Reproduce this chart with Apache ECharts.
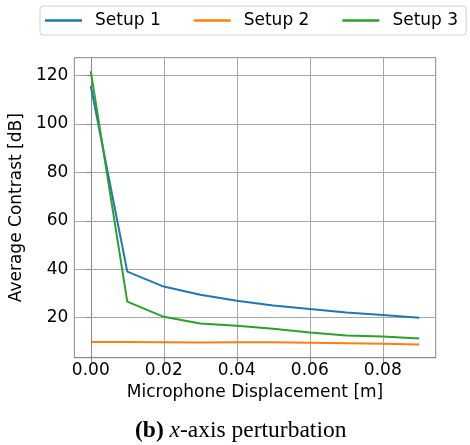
<!DOCTYPE html>
<html>
<head>
<meta charset="utf-8">
<script src="https://cdn.jsdelivr.net/npm/echarts@6/dist/echarts.min.js"></script>
<style>
html,body{margin:0;padding:0;background:#fff;}
#chart{width:470px;height:445px;}
</style>
</head>
<body>
<div id="chart"></div>
<script>
var displacement = [0.00, 0.01, 0.02, 0.03, 0.04, 0.05, 0.06, 0.07, 0.08, 0.09];
var setup1 = [115.7, 39.0, 32.8, 29.4, 26.9, 25.0, 23.5, 22.1, 21.0, 19.9];
var setup2 = [9.9, 9.9, 9.8, 9.7, 9.8, 9.8, 9.6, 9.4, 9.2, 8.9];
var setup3 = [121.8, 26.6, 20.3, 17.5, 16.6, 15.4, 13.8, 12.6, 12.2, 11.3];
var xTicks = [0.00, 0.02, 0.04, 0.06, 0.08];
var yTicks = [20, 40, 60, 80, 100, 120];
var seriesNames = ['Setup 1', 'Setup 2', 'Setup 3'];
var colors = ['#1f77b4', '#ff7f0e', '#2ca02c'];

function pairs(ys) { return displacement.map(function (x, i) { return [x, ys[i]]; }); }

var FONT = 'DejaVu Sans';
var chart = echarts.init(document.getElementById('chart'), null, {renderer: 'canvas'});
var allSeries = [setup1, setup2, setup3];
chart.setOption({
  animation: false,
  color: colors,
  grid: {left: 72.7, right: 34.3, top: 57.7, bottom: 87.3, show: true, borderColor: '#888', borderWidth: 1, containLabel: false},
  legend: {
    left: 40, top: 6,
    padding: [6, 8, 6, 5],
    itemWidth: 37, itemHeight: 2.5, itemGap: 33,
    icon: 'rect',
    borderColor: '#d0d0d0', borderWidth: 1, borderRadius: 3,
    textStyle: {fontFamily: FONT, fontSize: 17, color: '#000', padding: [0, 0, 0, 8]},
    data: seriesNames
  },
  xAxis: {
    type: 'value', min: -0.0045, max: 0.0945,
    name: 'Microphone Displacement [m]', nameLocation: 'middle', nameGap: 21,
    nameTextStyle: {fontFamily: FONT, fontSize: 17, color: '#000'},
    axisLine: {show: true, lineStyle: {color: '#888', width: 1}},
    axisTick: {show: true, length: 5, lineStyle: {color: '#888'}, customValues: xTicks},
    axisLabel: {fontFamily: FONT, fontSize: 17, color: '#000', margin: 4, customValues: xTicks,
      formatter: function (v) { return v.toFixed(2); }},
    splitLine: {show: true, lineStyle: {color: '#a8a8a8', width: 1}}
  },
  yAxis: {
    type: 'value', min: 3.4, max: 127.4,
    name: 'Average Contrast [dB]', nameLocation: 'middle', nameGap: 39,
    nameTextStyle: {fontFamily: FONT, fontSize: 17, color: '#000'},
    axisLine: {show: true, lineStyle: {color: '#888', width: 1}},
    axisTick: {show: true, length: 5, lineStyle: {color: '#888'}, customValues: yTicks},
    axisLabel: {fontFamily: FONT, fontSize: 17, color: '#000', margin: 6, customValues: yTicks},
    splitLine: {show: true, lineStyle: {color: '#a8a8a8', width: 1}}
  },
  series: seriesNames.map(function (n, i) {
    return {name: n, type: 'line', data: pairs(allSeries[i]), showSymbol: false, symbol: 'none',
      lineStyle: {width: 2, color: colors[i]}, itemStyle: {color: colors[i]}, z: 2 + i};
  }),
  graphic: [{
    type: 'text', left: 135, top: 419,
    style: {
      text: '{b|(b)} {i|x}{n|-axis perturbation}',
      rich: {
        b: {fontFamily: 'Liberation Serif', fontWeight: 'bold', fontSize: 23.5, fill: '#000'},
        i: {fontFamily: 'Liberation Serif', fontStyle: 'italic', fontSize: 23.5, fill: '#000'},
        n: {fontFamily: 'Liberation Serif', fontSize: 23.5, fill: '#000'}
      },
      fontFamily: 'Liberation Serif', fontSize: 23.5, fill: '#000'
    }
  }]
});
</script>
</body>
</html>
